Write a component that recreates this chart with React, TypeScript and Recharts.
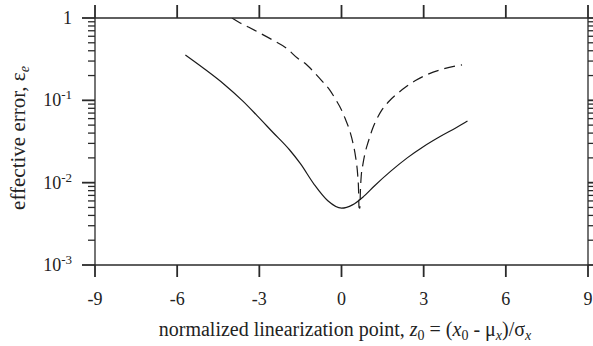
import React from 'react';
import { LineChart, Line, XAxis, YAxis } from 'recharts';

const FONT = "'Liberation Serif', 'Times New Roman', serif";
const AX = '#2a2a2a';
const INK = '#1a1a1a';

const xTicks = [-9, -6, -3, 0, 3, 6, 9];
const yMajor = [0.001, 0.01, 0.1, 1];
const yMajorBase = ['10', '10', '10', '1'];
const yMajorExp = ['-3', '-2', '-1', ''];
const yMinor = [
  0.002, 0.003, 0.004, 0.005, 0.006, 0.007, 0.008, 0.009,
  0.02, 0.03, 0.04, 0.05, 0.06, 0.07, 0.08, 0.09,
  0.2, 0.3, 0.4, 0.5, 0.6, 0.7, 0.8, 0.9,
];
const yTicks = [...yMajor, ...yMinor].sort((a, b) => a - b);

// solid curve
const solidX = [-5.7, -5.0, -4.3, -3.6, -3.1, -2.5, -1.9, -1.5, -1.0, -0.5, 0.0, 0.4, 0.8, 1.2, 1.8, 2.4, 3.0, 3.6, 4.2, 4.6];
const solidY = [0.355, 0.24, 0.158, 0.0977, 0.0661, 0.0407, 0.0251, 0.017, 0.00955, 0.00603, 0.0049, 0.00537, 0.00676, 0.00912, 0.0138, 0.02, 0.0275, 0.0363, 0.0468, 0.0562];

// dashed curve
const dashX = [-4.0, -3.7, -3.4, -3.0, -2.5, -2.0, -1.6, -1.33, -1.0, -0.7, -0.42, -0.24, 0.0, 0.13, 0.31, 0.42, 0.52, 0.59, 0.62, 0.64, 0.67, 0.69, 0.72, 0.78, 0.86, 0.98, 1.14, 1.3, 1.47, 1.71, 2.07, 2.38, 2.7, 3.11, 3.7, 4.4];
const dashY = [1.0, 0.871, 0.776, 0.661, 0.537, 0.427, 0.324, 0.282, 0.219, 0.17, 0.132, 0.106, 0.0764, 0.0605, 0.0417, 0.0302, 0.02, 0.0126, 0.00871, 0.00501, 0.0049, 0.00794, 0.012, 0.0166, 0.0229, 0.0316, 0.0457, 0.0603, 0.0759, 0.0955, 0.123, 0.148, 0.174, 0.204, 0.24, 0.269];

const solidData = solidX.map((x, i) => ({ x, y: solidY[i] }));
const dashData = dashX.map((x, i) => ({ x, y: dashY[i] }));

const BottomTick = (props: any) => {
  const { x, y, payload } = props;
  return (
    <g>
      <line x1={x} x2={x} y1={y} y2={y + 12} stroke={AX} strokeWidth={1.8} />
      <text x={x} y={y + 40} textAnchor="middle" fontSize={18} fontFamily={FONT} fill="#222">
        {String(payload.value)}
      </text>
    </g>
  );
};

const TopTick = (props: any) => {
  const { x, y } = props;
  return <line x1={x} x2={x} y1={y} y2={y - 13} stroke={AX} strokeWidth={1.8} />;
};

const LeftTick = (props: any) => {
  const { x, y, payload } = props;
  const idx = yMajor.indexOf(payload.value);
  if (idx < 0) {
    return <line x1={x - 7} x2={x} y1={y} y2={y} stroke={AX} strokeWidth={1.3} />;
  }
  return (
    <g>
      <line x1={x - 13} x2={x} y1={y} y2={y} stroke={AX} strokeWidth={1.8} />
      <text x={x - 23} y={y + 6} textAnchor="end" fontSize={18} fontFamily={FONT} fill="#222">
        {yMajorBase[idx]}
        {yMajorExp[idx] ? (
          <tspan dy={-7} fontSize={13}>{yMajorExp[idx]}</tspan>
        ) : null}
      </text>
    </g>
  );
};

const RightTick = (props: any) => {
  const { x, y, payload } = props;
  const major = yMajor.indexOf(payload.value) >= 0;
  return <line x1={x} x2={x + (major ? 13 : 7)} y1={y} y2={y} stroke={AX} strokeWidth={major ? 1.8 : 1.3} />;
};

const XTitle = () => (
  <text x={345} y={336} textAnchor="middle" fontSize={20} fontFamily={FONT} fill="#222">
    {'normalized linearization point, '}
    <tspan fontStyle="italic">z</tspan>
    <tspan dy={4} fontSize={14}>0</tspan>
    <tspan dy={-4}>{' = ('}</tspan>
    <tspan fontStyle="italic">x</tspan>
    <tspan dy={4} fontSize={14}>0</tspan>
    <tspan dy={-4}>{' - μ'}</tspan>
    <tspan dy={4} fontSize={14} fontStyle="italic">x</tspan>
    <tspan dy={-4}>{')/σ'}</tspan>
    <tspan dy={4} fontSize={14} fontStyle="italic">x</tspan>
  </text>
);

const YTitle = () => (
  <text
    x={25}
    y={138}
    textAnchor="middle"
    fontSize={21}
    fontFamily={FONT}
    fill="#222"
    transform="rotate(-90, 25, 138)"
  >
    {'effective error, ε'}
    <tspan dy={4} fontSize={14} fontStyle="italic">e</tspan>
  </text>
);

export default function App() {
  return (
    <div style={{ position: 'absolute', left: 0, top: 0, width: 593, height: 346, background: '#fff' }}>
      <LineChart width={593} height={346} margin={{ top: 0, right: 0, bottom: 0, left: 0 }}>
        <XAxis
          xAxisId={0}
          type="number"
          dataKey="x"
          domain={[-9, 9]}
          ticks={xTicks}
          interval={0}
          height={81}
          tickSize={0}
          tickMargin={0}
          tickLine={false}
          axisLine={{ stroke: AX, strokeWidth: 1.3 }}
          tick={<BottomTick />}
          allowDataOverflow
          label={<XTitle />}
        />
        <XAxis
          xAxisId="top"
          orientation="top"
          type="number"
          dataKey="x"
          domain={[-9, 9]}
          ticks={xTicks}
          interval={0}
          height={18}
          tickSize={0}
          tickMargin={0}
          tickLine={false}
          axisLine={{ stroke: AX, strokeWidth: 1.3 }}
          tick={<TopTick />}
          allowDataOverflow
        />
        <YAxis
          yAxisId={0}
          type="number"
          scale="log"
          domain={[0.001, 1]}
          ticks={yTicks}
          interval={0}
          width={95}
          tickSize={0}
          tickMargin={0}
          tickLine={false}
          axisLine={{ stroke: AX, strokeWidth: 1.3 }}
          tick={<LeftTick />}
          allowDataOverflow
          label={<YTitle />}
        />
        <YAxis
          yAxisId="right"
          orientation="right"
          type="number"
          scale="log"
          domain={[0.001, 1]}
          ticks={yTicks}
          interval={0}
          width={5}
          tickSize={0}
          tickMargin={0}
          tickLine={false}
          axisLine={{ stroke: AX, strokeWidth: 1.3 }}
          tick={<RightTick />}
          allowDataOverflow
        />
        <Line
          data={solidData}
          dataKey="y"
          xAxisId={0}
          yAxisId={0}
          type="monotone"
          stroke={INK}
          strokeWidth={1.2}
          dot={false}
          isAnimationActive={false}
        />
        <Line
          data={dashData}
          dataKey="y"
          xAxisId={0}
          yAxisId={0}
          type="monotone"
          stroke={INK}
          strokeWidth={1.2}
          strokeDasharray="11 6"
          dot={false}
          isAnimationActive={false}
        />
      </LineChart>
    </div>
  );
}
